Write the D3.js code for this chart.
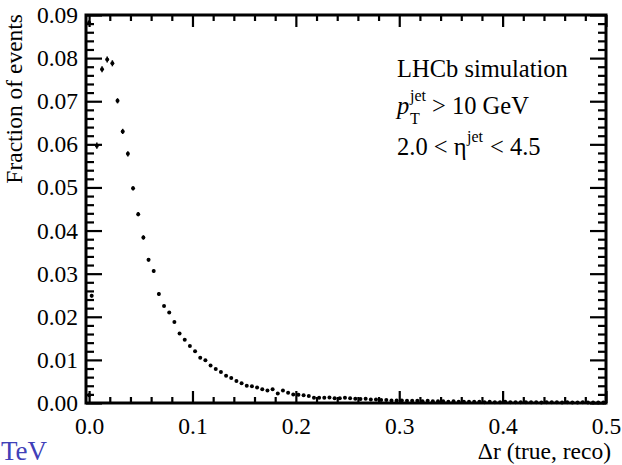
<!DOCTYPE html>
<html>
<head>
<meta charset="utf-8">
<script src="https://cdn.jsdelivr.net/npm/d3@7"></script>
<style>
  body { margin: 0; background: #fff; }
  svg text { font-family: "Liberation Serif", "DejaVu Serif", serif; fill: #000; }
</style>
</head>
<body>
<svg id="chart" width="622" height="465"></svg>
<script>
// histogram of delta r, bin width 0.005
var binLow = 0.0;
var binWidth = 0.005;
var fraction = [
  0.0249, 0.0597, 0.0774, 0.0797, 0.0788, 0.0701, 0.0630, 0.0578, 0.0498, 0.0438,
  0.0384, 0.0332, 0.0306, 0.0253, 0.0225, 0.0210, 0.0188, 0.0161, 0.0147, 0.0132,
  0.0120, 0.0105, 0.0099, 0.0087, 0.0079, 0.0072, 0.0063, 0.0058, 0.0051, 0.0046,
  0.0040, 0.0039, 0.0036, 0.0032, 0.0029, 0.0032, 0.0022, 0.0029, 0.0024, 0.0020,
  0.0019, 0.0018, 0.0016, 0.0012, 0.0012, 0.0012, 0.0013, 0.0011, 0.0011, 0.0012,
  0.0011, 0.0010, 0.0009, 0.0010, 0.0008, 0.0008, 0.0007, 0.0007, 0.0006, 0.0006,
  0.0006, 0.0005, 0.0005, 0.0005, 0.0004, 0.0005, 0.0004, 0.0004, 0.0004, 0.0003,
  0.0004, 0.0003, 0.0003, 0.0003, 0.0003, 0.0003, 0.0002, 0.0003, 0.0002, 0.0002,
  0.0003, 0.0002, 0.0002, 0.0002, 0.0002, 0.0002, 0.0002, 0.0001, 0.0002, 0.0002,
  0.0002, 0.0001, 0.0002, 0.0001, 0.0001, 0.0002, 0.0001, 0.0001, 0.0001, 0.0001
];
// only the first bins have visible error bars
var fractionErr = [
  0.0004, 0.0007, 0.0007, 0.0007, 0.0007, 0.0006, 0.0006, 0.0006, 0.0005, 0.0005,
  0.0005, 0.0004, 0.0004, 0.0004
];
// stray points drawn on the y axis
var extraX = [0.0, 0.0];
var extraY = [0.0882, 0.0018];
var extraErr = [0.0006, 0.0004];

var xMajor = [0.0, 0.1, 0.2, 0.3, 0.4, 0.5];
var yMajor = [0.00, 0.01, 0.02, 0.03, 0.04, 0.05, 0.06, 0.07, 0.08, 0.09];

const svg = d3.select("#chart");
const m = {left: 86, right: 606, top: 15, bottom: 403};

const x = d3.scaleLinear().domain([-0.003, 0.5]).range([m.left, m.right]);
const y = d3.scaleLinear().domain([0, 0.09]).range([m.bottom, m.top]);

var xMinor = d3.range(0, 0.5001, 0.02).filter(v => Math.abs(v * 10 - Math.round(v * 10)) > 1e-6);
var yMinor = d3.range(0, 0.0901, 0.002).filter(v => Math.abs(v * 100 - Math.round(v * 100)) > 1e-6);

function styleAxis(g){
    g.select(".domain").remove();
    g.selectAll("line").attr("stroke", "#000").attr("stroke-width", 2.2);
    g.selectAll("text").attr("font-size", 23.5).attr("font-family", "Liberation Serif").attr("fill", "#000");
}

// bottom
svg.append("g").attr("transform", `translate(0,${m.bottom})`)
    .call(d3.axisBottom(x).tickValues(xMajor).tickSize(-12).tickPadding(14).tickFormat(d3.format(".1f")))
    .call(styleAxis);
svg.append("g").attr("transform", `translate(0,${m.bottom})`)
    .call(d3.axisBottom(x).tickValues(xMinor).tickSize(-6).tickFormat(""))
    .call(styleAxis);
// top
svg.append("g").attr("transform", `translate(0,${m.top})`)
    .call(d3.axisTop(x).tickValues(xMajor).tickSize(-12).tickFormat(""))
    .call(styleAxis);
svg.append("g").attr("transform", `translate(0,${m.top})`)
    .call(d3.axisTop(x).tickValues(xMinor).tickSize(-6).tickFormat(""))
    .call(styleAxis);
// left
svg.append("g").attr("transform", `translate(${m.left},0)`)
    .call(d3.axisLeft(y).tickValues(yMajor).tickSize(-16).tickPadding(8).tickFormat(d3.format(".2f")))
    .call(styleAxis);
svg.append("g").attr("transform", `translate(${m.left},0)`)
    .call(d3.axisLeft(y).tickValues(yMinor).tickSize(-8).tickFormat(""))
    .call(styleAxis);
// right
svg.append("g").attr("transform", `translate(${m.right},0)`)
    .call(d3.axisRight(y).tickValues(yMajor).tickSize(-16).tickFormat(""))
    .call(styleAxis);
svg.append("g").attr("transform", `translate(${m.right},0)`)
    .call(d3.axisRight(y).tickValues(yMinor).tickSize(-8).tickFormat(""))
    .call(styleAxis);

// frame
svg.append("rect")
    .attr("x", m.left).attr("y", m.top)
    .attr("width", m.right - m.left).attr("height", m.bottom - m.top)
    .attr("fill", "none").attr("stroke", "#000").attr("stroke-width", 3);

// points
var pts = fraction.map((v, i) => ({x: binLow + binWidth * (i + 0.5), y: v, e: fractionErr[i] || 0}));
extraX.forEach((v, i) => pts.push({x: v, y: extraY[i], e: extraErr[i]}));

const g = svg.append("g");
g.selectAll("line.err")
    .data(pts.filter(d => d.e > 0))
    .enter()
    .append("line")
        .attr("class", "err")
        .attr("x1", d => x(d.x)).attr("x2", d => x(d.x))
        .attr("y1", d => y(d.y - d.e)).attr("y2", d => y(d.y + d.e))
        .attr("stroke", "#000").attr("stroke-width", 1.5);
g.selectAll("circle")
    .data(pts)
    .enter()
    .append("circle")
        .attr("cx", d => x(d.x))
        .attr("cy", d => y(d.y))
        .attr("r", 2)
        .attr("fill", "#000");

// axis titles
svg.append("text")
    .attr("transform", "translate(22,14) rotate(-90)")
    .attr("text-anchor", "end")
    .attr("font-size", 23.5)
    .text("Fraction of events");

svg.append("text")
    .attr("x", 611).attr("y", 459)
    .attr("text-anchor", "end")
    .attr("font-size", 23.5)
    .text("\u0394r (true, reco)");

svg.append("text")
    .attr("x", 1).attr("y", 460)
    .attr("font-size", 27)
    .style("fill", "#4040b8")
    .text("TeV");

// legend
const lg = svg.append("g").attr("font-size", 24.5);
lg.append("text").attr("x", 397).attr("y", 77).text("LHCb simulation");

lg.append("text").attr("x", 397).attr("y", 114).attr("font-style", "italic").text("p");
lg.append("text").attr("x", 410).attr("y", 124).attr("font-size", 16).text("T");
lg.append("text").attr("x", 410).attr("y", 101).attr("font-size", 16).text("jet");
lg.append("text").attr("x", 432).attr("y", 114).text("> 10 GeV");

lg.append("text").attr("x", 397).attr("y", 155).text("2.0 < \u03b7");
lg.append("text").attr("x", 467).attr("y", 142).attr("font-size", 16).text("jet");
lg.append("text").attr("x", 490).attr("y", 155).text("< 4.5");
</script>
</body>
</html>
